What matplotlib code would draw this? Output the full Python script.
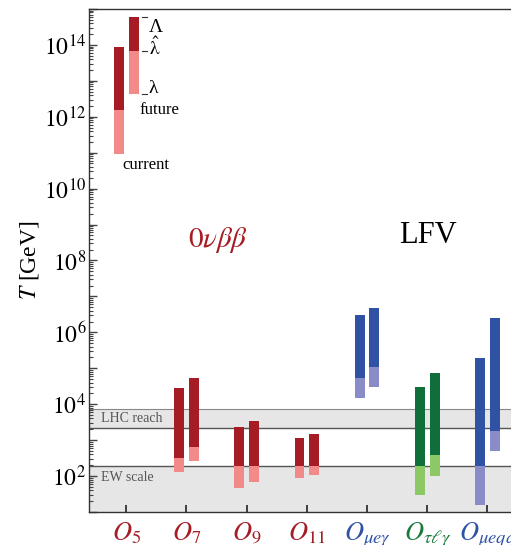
import numpy as np
import matplotlib
matplotlib.use("Agg")
import matplotlib.pyplot as plt
from matplotlib.ticker import LogLocator, FixedLocator, NullFormatter

plt.rcParams['font.family'] = ['Liberation Serif', 'DejaVu Serif']
plt.rcParams['mathtext.fontset'] = 'stix'

# operators (x positions 1..7)
labels = [r'$O_5$', r'$O_7$', r'$O_9$', r'$O_{11}$',
          r'$O_{\mu e\gamma}$', r'$O_{\tau\ell\gamma}$', r'$O_{\mu eqq}$']
groups = ['red', 'red', 'red', 'red', 'blue', 'green', 'blue']

# log10(T/GeV): Lambda (top), lambda-hat (switch), lambda (bottom)
cur_top = [13.94, 4.44, 3.36, 3.06, 6.47, 4.47, 5.28]
cur_mid = [12.19, 2.50, 2.28, 2.28, 4.72, 2.28, 2.28]
cur_bot = [10.97, 2.11, 1.67, 1.94, 4.17, 1.47, 1.19]
fut_top = [14.78, 4.72, 3.53, 3.17, 6.69, 4.86, 6.39]
fut_mid = [13.83, 2.81, 2.28, 2.28, 5.03, 2.58, 3.25]
fut_bot = [12.64, 2.42, 1.83, 2.03, 4.47, 2.00, 2.69]

ew_scale = 2.28
lhc_reach = 3.33
lhc_max = 3.87

colors = {
    'red': ('#a51c24', '#f38a8a'),
    'blue': ('#2f52a4', '#8a8cc8'),
    'green': ('#0f6e3a', '#8cc866'),
}

fig = plt.figure(figsize=(5.11, 5.45), dpi=100)
ax = fig.add_axes([0.174, 0.0606, 0.853, 0.923])

x = np.arange(1, 8)
w = 0.165
off = 0.122

for i in range(7):
    dark, light = colors[groups[i]]
    for xc, top, mid, bot in [(x[i] - off, cur_top[i], cur_mid[i], cur_bot[i]),
                              (x[i] + off, fut_top[i], fut_mid[i], fut_bot[i])]:
        ax.bar(xc, 10**top - 10**mid, bottom=10**mid, width=w, color=dark, zorder=3)
        ax.bar(xc, 10**mid - 10**bot, bottom=10**bot, width=w, color=light, zorder=3)

ax.set_yscale('log')
ax.set_ylim(10**1, 10**15)
ax.set_xlim(0.38, 7.62)

# bands
ax.axhspan(10, 10**ew_scale, color='#e6e6e6', zorder=0, lw=0)
ax.axhspan(10**lhc_reach, 10**lhc_max, color='#e6e6e6', zorder=0, lw=0)
ax.axhline(10**ew_scale, color='#555555', lw=1.0, zorder=1)
ax.axhline(10**lhc_reach, color='#555555', lw=1.0, zorder=1)
ax.axhline(10**lhc_max, color='#888888', lw=0.8, zorder=1)
ax.text(0.58, 10**3.6, 'LHC reach', fontsize=10, color='#555555', va='center', zorder=2)
ax.text(0.58, 10**1.97, 'EW scale', fontsize=10, color='#555555', va='center', zorder=2)

# y ticks
ax.yaxis.set_major_locator(FixedLocator([10.0**k for k in range(1, 16)]))
ax.yaxis.set_minor_locator(LogLocator(base=10, subs=np.arange(2, 10), numticks=30))
ax.yaxis.set_minor_formatter(NullFormatter())
ax.set_yticklabels([r'$10^{%d}$' % k if k % 2 == 0 else '' for k in range(1, 16)])
ax.tick_params(axis='y', which='major', direction='in', length=6, width=1.0,
               labelsize=17, pad=2, color='#444444')
ax.tick_params(axis='y', which='minor', direction='in', length=3, width=0.8, color='#444444')
ax.set_ylabel(r'$T$ [GeV]', fontsize=17, labelpad=2)

# x ticks
ax.set_xticks(x)
ax.set_xticklabels(labels, fontsize=19)
ax.tick_params(axis='x', direction='in', length=5, width=1.2, pad=6, color='#222222')
lab_colors = {'red': '#a51c24', 'blue': '#2f52a4', 'green': '#1a7a3a'}
for t, g in zip(ax.get_xticklabels(), groups):
    t.set_color(lab_colors[g])

for s in ['left', 'bottom', 'top']:
    ax.spines[s].set_color('#333333')
    ax.spines[s].set_linewidth(1.0)
ax.spines['right'].set_visible(False)

# group headings
ax.text(2.52, 10**8.58, r'$\mathit{0}\nu\beta\beta$', fontsize=21, color='#a51c24',
        ha='center', va='center')
ax.text(6.02, 10**8.69, 'LFV', fontsize=22, color='black', ha='center', va='center')

# legend annotations on O5
xf = x[0] + off + w / 2 + 0.05
for val, lab, dy, va in [(fut_top[0], 'Λ', -0.05, 'top'),
                         (fut_mid[0], r'$\hat{\mathrm{\lambda}}$', 0.1, 'center'),
                         (fut_bot[0], 'λ', -0.1, 'bottom')]:
    ax.plot([xf, xf + 0.09], [10**val, 10**val], color='#333333', lw=0.8, zorder=4)
    ax.text(xf + 0.12, 10**(val + dy), lab, fontsize=14, va=va, ha='left')
ax.text(x[0] + off + 0.1, 10**(fut_bot[0] - 0.22), 'future', fontsize=12, va='top', ha='left')
ax.text(x[0] - off + 0.05, 10**(cur_bot[0] - 0.1), 'current', fontsize=12, va='top', ha='left')

fig.savefig('out.png', dpi=100)
